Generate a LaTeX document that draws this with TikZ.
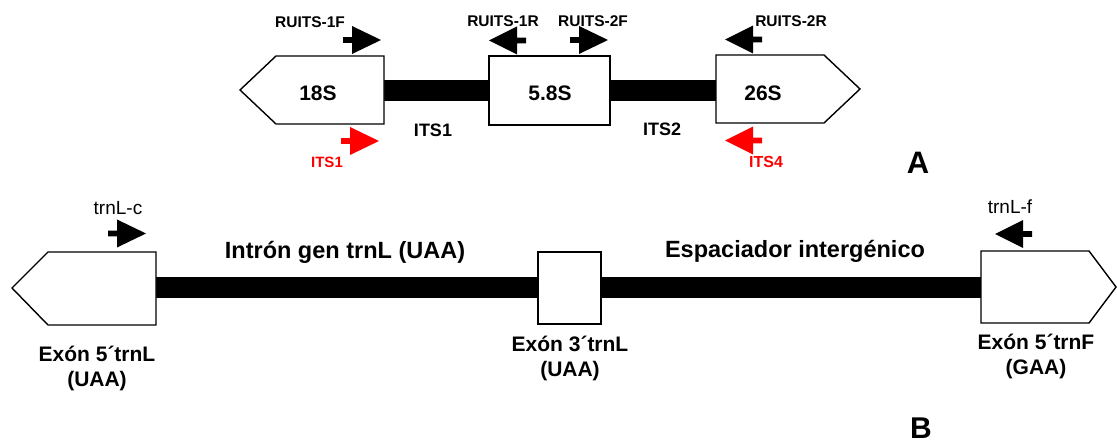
\documentclass[tikz,border=0pt]{standalone}
\usepackage{fontspec}
\setmainfont{Liberation Sans}
\begin{document}
\begin{tikzpicture}[x=1pt,y=-1pt,
  gene/.style={draw=black,line width=1.4pt,fill=white,line join=miter},
  spacer/.style={line width=21pt},
  lbl/.style={inner sep=0pt,font=\bfseries\fontsize{#1}{#1}\selectfont},
  lbl/.default=21,
  twoline/.style={inner sep=0pt,align=center,font=\bfseries\fontsize{21}{25.5}\selectfont},
  fwd/.pic={\fill (-9,-2.8) -- (0,-2.8) -- (0,-14) -- (29,0) -- (0,14) -- (0,2.8) -- (-9,2.8) -- cycle;},
  rev/.pic={\fill (9,-2.8) -- (0,-2.8) -- (0,-14) -- (-28,0) -- (0,14) -- (0,2.8) -- (9,2.8) -- cycle;}
]
\useasboundingbox (0,0) rectangle (1117,446);

% ---------------- Part A ----------------
\coordinate (g18e) at (384,90.5);
\coordinate (g26w) at (716,90.5);
\node[gene,minimum width=121pt,minimum height=69pt,inner sep=0pt] (g58) at (549.5,90.5) {};
\draw[spacer] (g18e) -- (g58.west);
\draw[spacer] (g58.east) -- (g26w);
\node[gene,minimum width=121pt,minimum height=69pt,inner sep=0pt] (g58b) at (549.5,90.5) {};
\draw[gene] (240,90) -- (276,56) -- (384,56) -- (384,124) -- (276,124) -- cycle;
\draw[gene] (716,55) -- (824,55) -- (860,89) -- (824,123) -- (716,123) -- cycle;

\node[lbl=21] (t18) at (318,93) {18S};
\node[lbl=21] (t58) at (550,93) {5.8S};
\node[lbl=21] (t26) at (763,93) {26S};
\node[lbl=18] (its1) at (433,130) {ITS1};
\node[lbl=18] (its2) at (662,129) {ITS2};

\node[lbl=15.5] (p1f) at (310,22) {RUITS-1F};
\node[lbl=15.5] (p1r) at (503,21) {RUITS-1R};
\node[lbl=15.5] (p2f) at (593,21) {RUITS-2F};
\node[lbl=15.5] (p2r) at (791,21) {RUITS-2R};
\node[lbl=15,text=red] (pi1) at (327,162) {ITS1};
\node[lbl=16,text=red] (pi4) at (766,162) {ITS4};

\pic[black] at (352,40) {fwd};
\pic[black] at (579,40) {fwd};
\pic[red] at (350,141) {fwd};
\pic[black] at (517,40.5) {rev};
\pic[black] at (753,39.5) {rev};
\pic[red] at (753,140.5) {rev};

\node[lbl=31] (la) at (918,163) {A};

% ---------------- Part B ----------------
\coordinate (e5e) at (156,288);
\coordinate (f5w) at (981,288);
\node[gene,minimum width=63pt,minimum height=72pt,inner sep=0pt] (e3) at (569.5,288) {};
\draw[spacer] (e5e) -- (e3.west);
\draw[spacer] (e3.east) -- (f5w);
\node[gene,minimum width=63pt,minimum height=72pt,inner sep=0pt] (e3b) at (569.5,288) {};
\draw[gene] (12,288) -- (48,252) -- (156,252) -- (156,325) -- (48,325) -- cycle;
\draw[gene] (981,251) -- (1089,251) -- (1116,287) -- (1089,323) -- (981,323) -- cycle;

\node[lbl=23.5] (intr) at (345,252) {Intrón gen trnL (UAA)};
\node[lbl=23.5] (esp) at (795,251) {Espaciador intergénico};

\node[twoline] (x5l) at (97,368.5) {Exón 5´trnL\\(UAA)};
\node[twoline] (x3l) at (570,358.5) {Exón 3´trnL\\(UAA)};
\node[twoline] (x5f) at (1036,356.5) {Exón 5´trnF\\(GAA)};

\node[inner sep=0pt,font=\fontsize{19}{19}\selectfont] (pc) at (118,208) {trnL-c};
\node[inner sep=0pt,font=\fontsize{19}{19}\selectfont] (pf) at (1010,207) {trnL-f};
\pic[black] at (117,233.5) {fwd};
\pic[black] at (1023,234) {rev};

\node[lbl=30,anchor=base] (lb) at (921,438) {B};
\end{tikzpicture}
\end{document}
